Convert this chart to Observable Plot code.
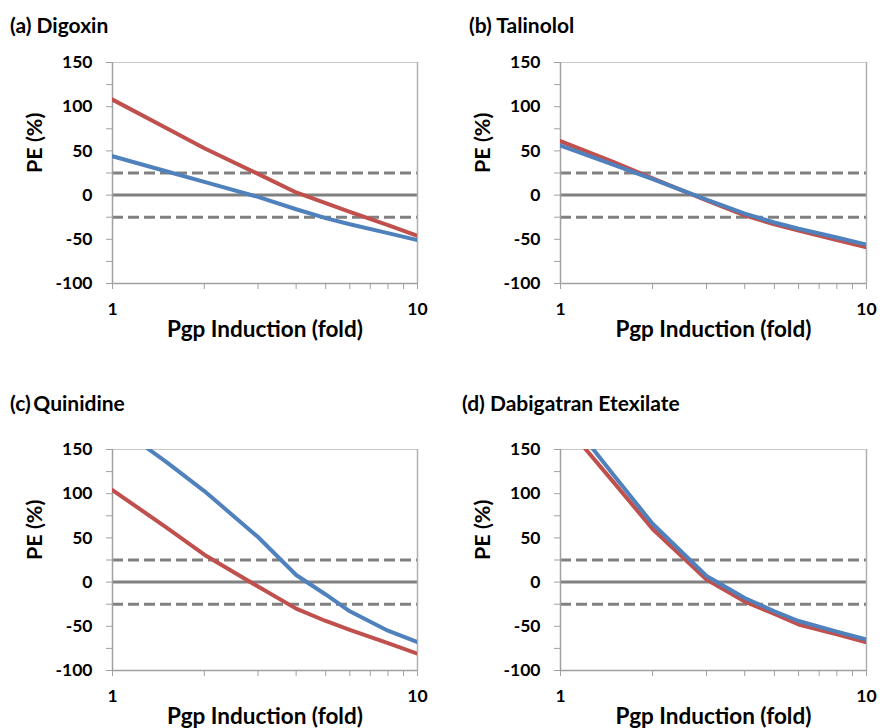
<!DOCTYPE html>
<html><head><meta charset="utf-8">
<script src="https://cdn.jsdelivr.net/npm/d3@7"></script>
<script src="https://cdn.jsdelivr.net/npm/@observablehq/plot@0.6"></script>
<style>
body{margin:0;background:#fff;}
#root{position:relative;width:880px;height:728px;font-family:Lato,sans-serif;background:#fff;overflow:hidden}
.title{position:absolute;font-weight:bold;font-size:21px;line-height:21px;color:#000;white-space:nowrap}
.panel{position:absolute}
</style></head><body><div id="root"></div>
<script>
// Pgp induction (fold) sample points
const induction = [1, 1.5, 2, 3, 4, 5, 6, 8, 10];
// PE (%) values, red and blue series per drug
const digoxinRed   = [108, 76, 53, 24, 3, -9, -19, -34, -46];
const digoxinBlue  = [44, 27, 15, -2, -16, -26, -33, -43, -51];
const talinololRed  = [61, 37, 19, -6, -23, -33, -40, -51, -59];
const talinololBlue = [56, 34, 18, -5, -21, -31, -38, -48, -56];
const quinidineRed  = [104, 62, 31, -5, -30, -44, -54, -69, -81];
const quinidineBlue = [180, 136, 103, 51, 8, -14, -33, -55, -68];
const dabigatranRed  = [184, 112, 60, 3, -22, -36, -48, -59, -68];
const dabigatranBlue = [197, 120, 66, 7, -18, -33, -44, -56, -65];

const titles = ["(a) Digoxin", "(b) Talinolol", "(c)\u2009Quinidine", "(d) Dabigatran Etexilate"];
const xTicks = [1, 2, 3, 4, 5, 6, 7, 8, 9, 10];
const xTickLabels = [1, 10];
const yTicks = [-100, -75, -50, -25, 0, 25, 50, 75, 100, 125, 150];
const yTickLabels = [-100, -50, 0, 50, 100, 150];
const refSolid = [0];
const refDashed = [25, -25];
const xLabel = "Pgp Induction (fold)";
const yLabel = "PE (%)";

const series = [
  [digoxinRed, digoxinBlue],
  [talinololRed, talinololBlue],
  [quinidineRed, quinidineBlue],
  [dabigatranRed, dabigatranBlue]
];

const layout = [
  {left: 0,   top: 0,   mt: 62, mb: 81, ml: 112, mr: 23, tx: 10,  ty: 14},
  {left: 440, top: 0,   mt: 62, mb: 81, ml: 120, mr: 14, tx: 469, ty: 14},
  {left: 0,   top: 364, mt: 85, mb: 58, ml: 112, mr: 23, tx: 10,  ty: 392},
  {left: 440, top: 364, mt: 85, mb: 58, ml: 120, mr: 14, tx: 462, ty: 392}
];

const RED = "#c0504d", BLUE = "#4f81bd", REF = "#808080", AXIS = "#a0a0a0";
const root = document.getElementById("root");

series.forEach(([red, blue], i) => {
  const L = layout[i];
  const redData = induction.map((x, k) => ({x, y: red[k]}));
  const blueData = induction.map((x, k) => ({x, y: blue[k]}));
  const chart = Plot.plot({
    width: 440, height: 364,
    marginLeft: L.ml, marginRight: L.mr, marginTop: L.mt, marginBottom: L.mb,
    style: {fontFamily: "Lato, sans-serif", fontSize: "17.5px", fontWeight: "bold", color: "#000", background: "transparent", overflow: "visible"},
    x: {type: "log", domain: [1, 10]},
    y: {domain: [-100, 150]},
    marks: [
      Plot.frame({stroke: "#c8c8c8", strokeWidth: 1}),
      Plot.ruleY(refSolid, {stroke: REF, strokeWidth: 3}),
      Plot.ruleY(refDashed, {stroke: REF, strokeWidth: 3, strokeDasharray: "11,5"}),
      Plot.ruleX([1], {stroke: AXIS, strokeWidth: 1.5}),
      Plot.ruleY([-100], {stroke: AXIS, strokeWidth: 1.5}),
      Plot.ruleX([10], {stroke: "#b0b0b0", strokeWidth: 1.5}),
      Plot.axisX({ticks: xTicks, tickFormat: d => xTickLabels.includes(d) ? String(d) : "", tickSize: 6, tickPadding: 13, stroke: AXIS, label: null, fontSize: 17.5}),
      Plot.axisY({ticks: yTicks, tickFormat: d => yTickLabels.includes(d) ? String(d) : "", tickSize: 6, tickPadding: 14, stroke: AXIS, label: null, fontSize: 17.5}),
      Plot.line(redData, {x: "x", y: "y", stroke: RED, strokeWidth: 4, clip: true}),
      Plot.line(blueData, {x: "x", y: "y", stroke: BLUE, strokeWidth: 4, clip: true}),
      Plot.text([0], {text: [xLabel], frameAnchor: "bottom", lineAnchor: "middle", dy: 46, fontSize: 22.5, fontWeight: "bold", fill: "#000"}),
      Plot.text([0], {text: [yLabel], frameAnchor: "left", lineAnchor: "middle", dx: -77, rotate: -90, fontSize: 21.5, fontWeight: "bold", fill: "#000"})
    ]
  });
  const wrap = document.createElement("div");
  wrap.className = "panel";
  wrap.style.left = L.left + "px";
  wrap.style.top = L.top + "px";
  wrap.appendChild(chart);
  root.appendChild(wrap);
  const t = document.createElement("div");
  t.className = "title";
  t.style.left = L.tx + "px";
  t.style.top = L.ty + "px";
  t.textContent = titles[i];
  root.appendChild(t);
});
</script>
</body></html>
